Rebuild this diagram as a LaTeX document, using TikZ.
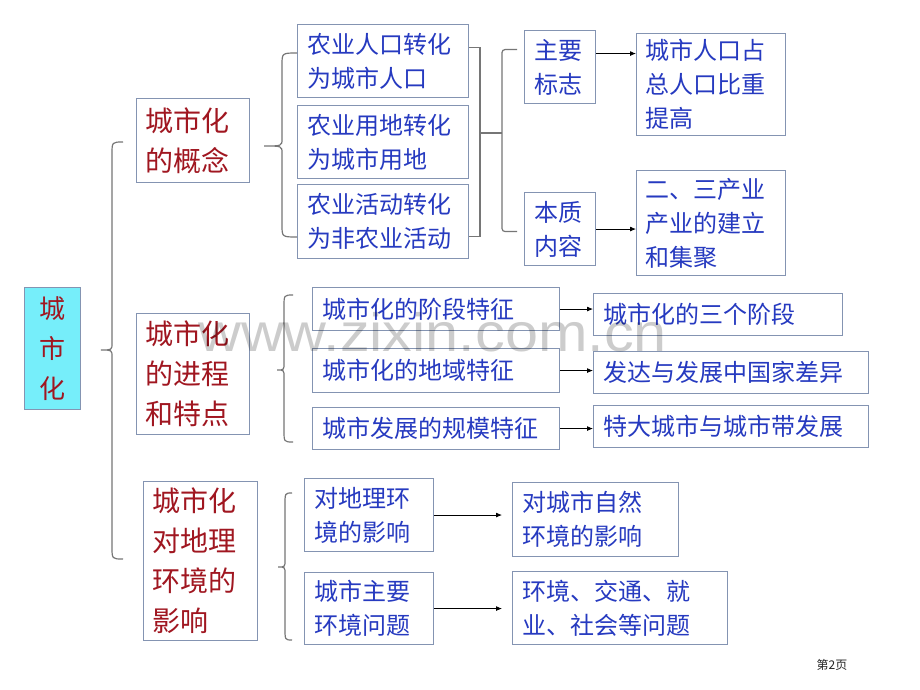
\documentclass[tikz,border=0pt]{standalone}
\usepackage{fontspec}
\usepackage{graphicx}
\usetikzlibrary{arrows.meta,calc}
\newfontfamily\cjk{Noto Sans CJK SC}
\newfontfamily\wmfont{Liberation Sans}
\definecolor{bluec}{RGB}{38,58,192}
\definecolor{redc}{RGB}{160,22,32}
\definecolor{boxc}{RGB}{132,148,178}
\definecolor{cyanc}{RGB}{118,238,250}
\definecolor{linec}{RGB}{118,118,118}
\newcommand\curly[6]{% xend, ytop, xv, xtip, ytip, ybot
  \draw[lnk] (#1,#2) .. controls (#3,#2) .. (#3,#2+12) -- (#3,#5-7)
     .. controls (#3,#5) .. (#4,#5) .. controls (#3,#5) .. (#3,#5+7)
     -- (#3,#6-12) .. controls (#3,#6) .. (#1,#6);}
\begin{document}
\begin{tikzpicture}[x=1pt,y=-1pt,
  bbox/.style={draw=boxc, line width=1.1pt, fill=white, inner xsep=10pt, inner ysep=0pt,
    align=left, anchor=north west, text=bluec, font=\cjk\fontsize{24}{34}\selectfont},
  rbox/.style={bbox, inner xsep=9pt, text=redc, font=\cjk\fontsize{28}{40}\selectfont},
  lnk/.style={draw=linec, line width=1.2pt},
  arr/.style={draw=black, line width=0.8pt, -{Latex[length=6pt,width=5pt]}},
]
\fill[white] (0,0) rectangle (920,690);
\useasboundingbox (0,0) rectangle (920,690);

% main box
\node[bbox, fill=cyanc, align=center, inner xsep=0pt, minimum width=56pt, minimum height=122pt,
  text width=56pt, text=redc, font=\cjk\fontsize{26}{40}\selectfont] (main) at (24,287) {城\\市\\化};

% red level-1 boxes
\node[rbox, minimum width=113pt, minimum height=84pt, text width=95pt] (c1) at (136,98) {城市化\\的概念};
\node[rbox, minimum width=113pt, minimum height=121pt, text width=95pt] (c2) at (136,313) {城市化\\的进程\\和特点};
\node[rbox, minimum width=114pt, minimum height=159pt, text width=96pt] (c3) at (143,481) {城市化\\对地理\\环境的\\影响};

% concept branch
\node[bbox, minimum width=171pt, minimum height=73pt, text width=151pt] (b1) at (297,24) {农业人口转化\\为城市人口};
\node[bbox, minimum width=171pt, minimum height=73pt, text width=151pt] (b2) at (297,105) {农业用地转化\\为城市用地};
\node[bbox, minimum width=171pt, minimum height=74pt, text width=151pt] (b3) at (297,184) {农业活动转化\\为非农业活动};
\node[bbox, minimum width=71pt, minimum height=73pt, text width=51pt] (zy) at (524,30) {主要\\标志};
\node[bbox, minimum width=71pt, minimum height=73pt, text width=51pt] (bz) at (524,192) {本质\\内容};
\node[bbox, minimum width=149pt, minimum height=102pt, text width=131pt, inner xsep=9pt] (r1) at (636,33) {城市人口占\\总人口比重\\提高};
\node[bbox, minimum width=149pt, minimum height=105pt, text width=131pt, inner xsep=9pt] (r2) at (636,170) {二、三产业\\产业的建立\\和集聚};

% process branch
\node[bbox, minimum width=247pt, minimum height=43pt, text width=227pt] (m1) at (312,287) {城市化的阶段特征};
\node[bbox, minimum width=247pt, minimum height=44pt, text width=227pt] (m2) at (312,348) {城市化的地域特征};
\node[bbox, minimum width=247pt, minimum height=42pt, text width=227pt] (m3) at (312,407) {城市发展的规模特征};
\node[bbox, minimum width=249pt, minimum height=42pt, text width=229pt] (t1) at (593,293) {城市化的三个阶段};
\node[bbox, minimum width=275pt, minimum height=42pt, text width=255pt] (t2) at (593,351) {发达与发展中国家差异};
\node[bbox, minimum width=275pt, minimum height=42pt, text width=255pt] (t3) at (593,405) {特大城市与城市带发展};

% effect branch
\node[bbox, minimum width=129pt, minimum height=73pt, text width=109pt] (e1) at (304,478) {对地理环\\境的影响};
\node[bbox, minimum width=129pt, minimum height=72pt, text width=109pt] (e2) at (304,572) {城市主要\\环境问题};
\node[bbox, minimum width=166pt, minimum height=74pt, text width=146pt] (f1) at (512,482) {对城市自然\\环境的影响};
\node[bbox, minimum width=215pt, minimum height=73pt, text width=195pt] (f2) at (512,571) {环境、交通、就\\业、社会等问题};

% braces
\curly{123}{142}{112}{101}{350}{559}
\curly{297}{53}{282}{264}{146}{237}
\curly{293}{295}{284}{277}{370}{442}
\curly{292}{493}{285}{278}{567}{640}

% bracket after concept boxes
\coordinate (bjoin) at (480,133);
\draw[lnk] ([yshift=13.5pt]b1.east) -- ([yshift=13.5pt]b1.east -| bjoin) -- ([yshift=-15pt]b3.east -| bjoin) -- ([yshift=-15pt]b3.east);
\draw[lnk, rounded corners=3pt] (bjoin) -- (502,133);
\draw[lnk, rounded corners=3pt] ([xshift=-7pt,yshift=17.5pt]zy.west) -- ++(-15,0) -- ([xshift=-22pt,yshift=-2.5pt]bz.west) -- ([xshift=-7pt,yshift=-2.5pt]bz.west);

% arrows
\draw[arr] ([yshift=13.5pt]zy.east) -- ([yshift=13.5pt]zy.east -| r1.west);
\draw[arr] (bz.east) -- (bz.east -| r2.west);
\draw[arr] (m1.east) -- (m1.east -| t1.west);
\draw[arr] (m2.east) -- (m2.east -| t2.west);
\draw[arr] (m3.east) -- (m3.east -| t3.west);
\draw[arr, shorten >=10pt] (e1.east) -- (e1.east -| f1.west);
\draw[arr, shorten >=10pt] (e2.east) -- (e2.east -| f2.west);

% watermark
\node[anchor=base west, inner sep=0pt, text=black, text opacity=0.2, font=\wmfont\fontsize{54}{54}\selectfont] (wm) at (198,351) {\scalebox{1.1}[1]{www.zixin.com.cn}};

% page number
\node[font=\cjk\fontsize{12}{12}\selectfont, text=black!85] (pg) at (832,665) {第2页};
\end{tikzpicture}
\end{document}
